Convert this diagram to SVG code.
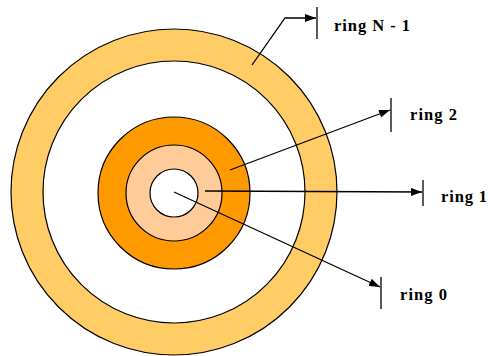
<svg xmlns="http://www.w3.org/2000/svg" width="488" height="356" viewBox="0 0 488 356">
<style>
.ring{stroke:#000;stroke-width:1.2}
.conn{stroke:#000;stroke-width:1.3;fill:none}
.tick{stroke:#000;stroke-width:1.3}
.lbl{font-family:"Liberation Serif","Times New Roman",serif;font-weight:bold;font-size:16.5px;fill:#000}
</style>
<defs>
<marker id="ah" markerUnits="userSpaceOnUse" markerWidth="12" markerHeight="10" refX="11" refY="4" orient="auto">
<path d="M0,0 L11,4 L0,8 Z" fill="#000"/>
</marker>
</defs>
<rect width="488" height="356" fill="#fff"/>
<g id="ringN1"><circle class="ring" cx="174" cy="192" r="163" fill="#FFCC66"/><circle class="ring" cx="174" cy="192" r="131" fill="#fff"/></g>
<g id="ring2"><circle class="ring" cx="174" cy="193" r="76" fill="#FF9900"/></g>
<g id="ring1"><circle class="ring" cx="174" cy="193" r="48" fill="#FFCC99"/></g>
<g id="ring0"><circle class="ring" cx="174" cy="193" r="24" fill="#fff"/></g>
<g id="connectors">
<polyline class="conn" points="252,65 285,18 316,18" marker-end="url(#ah)"/>
<line class="conn" x1="230" y1="170" x2="390" y2="110" marker-end="url(#ah)"/>
<line class="conn" x1="205" y1="191" x2="422" y2="192" marker-end="url(#ah)"/>
<line class="conn" x1="174" y1="192" x2="380" y2="287" marker-end="url(#ah)"/>
<line class="tick" x1="317" y1="7" x2="317" y2="39"/>
<line class="tick" x1="391" y1="98" x2="391" y2="132"/>
<line class="tick" x1="423" y1="180" x2="423" y2="206"/>
<line class="tick" x1="381" y1="277" x2="381" y2="309"/>
</g>
<g id="labels">
<text class="lbl" x="334" y="31" textLength="76" lengthAdjust="spacing">ring N - 1</text>
<text class="lbl" x="410" y="120" textLength="47" lengthAdjust="spacing">ring 2</text>
<text class="lbl" x="441" y="202" textLength="46" lengthAdjust="spacing">ring 1</text>
<text class="lbl" x="400" y="300" textLength="47" lengthAdjust="spacing">ring 0</text>
</g>
</svg>
